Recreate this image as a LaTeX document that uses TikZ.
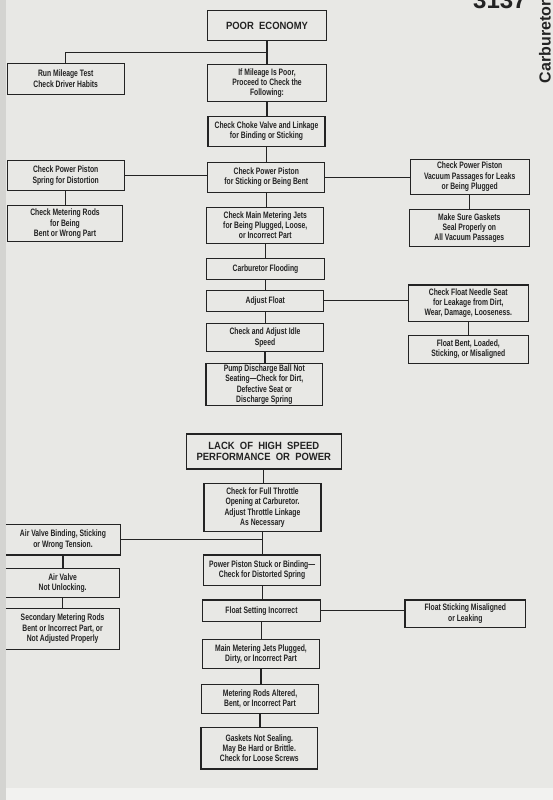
\documentclass[tikz,border=0pt]{standalone}
\usepackage{fontspec}
\newfontfamily\boxfont[FakeStretch=0.73]{Liberation Sans}
\newfontfamily\headfont[FakeStretch=0.9]{Liberation Sans}
\newfontfamily\sidefont{Liberation Sans}
\definecolor{bg}{RGB}{232,232,229}
\definecolor{strip}{RGB}{212,212,209}
\definecolor{bottomband}{RGB}{242,242,240}
\definecolor{ink}{RGB}{35,35,35}
\tikzset{
  ln/.style={draw=ink, line width=1.1pt},
  bx/.style={draw=ink, line width=1.1pt, align=center, inner sep=1pt, text=ink,
    font=\boxfont\bfseries\fontsize{9.3}{10.3}\selectfont},
  openbx/.style={draw=none, align=center, inner sep=1pt, text=ink,
    font=\boxfont\bfseries\fontsize{9.3}{10.3}\selectfont},
  headbx/.style={draw=ink, line width=1.2pt, align=center, inner sep=1pt, text=ink,
    font=\headfont\bfseries\fontsize{10.5}{11.5}\selectfont},
}
\begin{document}
\begin{tikzpicture}[x=1pt,y=-1pt]
\useasboundingbox (0,0) rectangle (553,800);
\fill[bg] (0,0) rectangle (553,800);
\fill[strip] (0,0) rectangle (6,800);
\fill[bottomband] (6,788) rectangle (553,800);
\begin{scope}
\clip (0,0) rectangle (553,800);
\node[anchor=base west, inner sep=0, rotate=90, text=ink,
  font=\sidefont\bfseries\fontsize{16}{16}\selectfont] (side) at (550.5,83.3) {Carburetor};
\node[anchor=base west, inner sep=0, text=ink,
  font=\sidefont\bfseries\fontsize{24}{24}\selectfont] (pgno) at (473,9) {3137};
\end{scope}

% ---------- POOR ECONOMY ----------
\node[headbx, minimum width=119pt, minimum height=30pt] (pe) at (267,25.7) {POOR\ \ ECONOMY};
\node[bx, minimum width=117pt, minimum height=31pt] (rm) at (65.7,78.7) {Run Mileage Test\\Check Driver Habits};
\node[bx, minimum width=119pt, minimum height=37pt] (im) at (267,83.3) {If Mileage Is Poor,\\Proceed to Check the\\Following:};
\node[bx, minimum width=117pt, minimum height=29.5pt] (cc) at (266.5,131.3) {Check Choke Valve and Linkage\\for Binding or Sticking};
\node[bx, minimum width=117pt, minimum height=30pt] (pp) at (266.3,177.3) {Check Power Piston\\for Sticking or Being Bent};
\node[bx, minimum width=117pt, minimum height=30pt] (ps) at (65.7,175.7) {Check Power Piston\\Spring for Distortion};
\node[bx, minimum width=115pt, minimum height=36pt] (mr) at (65,223.7) {Check Metering Rods\\for Being\\Bent or Wrong Part};
\node[bx, minimum width=119pt, minimum height=35pt] (vp) at (469.7,176.7) {Check Power Piston\\Vacuum Passages for Leaks\\or Being Plugged};
\node[bx, minimum width=120pt, minimum height=37pt] (gs) at (469.3,228) {Make Sure Gaskets\\Seal Properly on\\All Vacuum Passages};
\node[bx, minimum width=117pt, minimum height=36pt] (mj) at (265.3,225.3) {Check Main Metering Jets\\for Being Plugged, Loose,\\or Incorrect Part};
\node[bx, minimum width=117.6pt, minimum height=21pt] (cf) at (265.5,268.8) {Carburetor Flooding};
\node[bx, minimum width=117pt, minimum height=20.5pt] (af) at (265.3,300.8) {Adjust Float};
\node[bx, minimum width=117pt, minimum height=28.4pt] (ci) at (265,337.5) {Check and Adjust Idle\\Speed};
\node[bx, minimum width=116.7pt, minimum height=42.4pt] (pd) at (264.3,384.5) {Pump Discharge Ball Not\\Seating—Check for Dirt,\\Defective Seat or\\Discharge Spring};
\node[bx, minimum width=120pt, minimum height=36.7pt] (fn) at (468.3,303.3) {Check Float Needle Seat\\for Leakage from Dirt,\\Wear, Damage, Looseness.};
\node[bx, minimum width=120pt, minimum height=28.3pt] (fb) at (468.3,349.2) {Float Bent, Loaded,\\Sticking, or Misaligned};

\path (pe.south) ++(0,11.6) coordinate (j1);
\draw[ln] (pe.south) -- (pe.south |- im.north);
\draw[ln] (j1) -| (rm.north);
\foreach \a/\b in {im/cc, cc/pp, pp/mj, mj/cf, cf/af, af/ci, ci/pd, ps/mr, vp/gs, fn/fb}
  \draw[ln] (\a.south) -- (\a.south |- \b.north);
\draw[ln] (ps.east) -- (ps.east -| pp.west);
\draw[ln] (pp.east) -- (pp.east -| vp.west);
\draw[ln] (af.east) -- (af.east -| fn.west);

% ---------- LACK OF HIGH SPEED ----------
\node[headbx, minimum width=155pt, minimum height=35pt] (lh) at (263.8,451.5) {LACK\ \ OF\ \ HIGH\ \ SPEED\\PERFORMANCE\ \ OR\ \ POWER};
\node[bx, minimum width=117pt, minimum height=48.4pt] (ft) at (262.5,507.5) {Check for Full Throttle\\Opening at Carburetor.\\Adjust Throttle Linkage\\As Necessary};
\node[openbx, minimum width=114pt, minimum height=30.5pt] (av) at (63,539.5) {Air Valve Binding, Sticking\\or Wrong Tension.};
\node[openbx, minimum width=113.2pt, minimum height=29pt] (an) at (62.6,582.8) {Air Valve\\Not Unlocking.};
\node[openbx, minimum width=113.2pt, minimum height=41pt] (sm) at (62.6,628.8) {Secondary Metering Rods\\Bent or Incorrect Part, or\\Not Adjusted Properly};
\foreach \n in {av, an, sm}
  \draw[ln] (\n.north west) -- (\n.north east) -- (\n.south east) -- (\n.south west);
\node[bx, minimum width=116.4pt, minimum height=30.7pt] (pps) at (262.1,570.3) {Power Piston Stuck or Binding—\\Check for Distorted Spring};
\node[bx, minimum width=117.5pt, minimum height=21.7pt] (fs) at (261.5,610.8) {Float Setting Incorrect};
\node[bx, minimum width=120.6pt, minimum height=27.3pt] (fst) at (465.3,613.6) {Float Sticking Misaligned\\or Leaking};
\node[bx, minimum width=116.4pt, minimum height=29pt] (mjp) at (261,653.8) {Main Metering Jets Plugged,\\Dirty, or Incorrect Part};
\node[bx, minimum width=116.6pt, minimum height=29.3pt] (mra) at (260,698.7) {Metering Rods Altered,\\Bent, or Incorrect Part};
\node[bx, minimum width=116.7pt, minimum height=41.3pt] (gns) at (259.3,748.3) {Gaskets Not Sealing.\\May Be Hard or Brittle.\\Check for Loose Screws};

\foreach \a/\b in {lh/ft, ft/pps, pps/fs, fs/mjp, mjp/mra, mra/gns, av/an, an/sm}
  \draw[ln] (\a.south) -- (\a.south |- \b.north);
\draw[ln] (av.east) -- (av.east -| ft.south);
\draw[ln] (fs.east) -- (fs.east -| fst.west);
\end{tikzpicture}
\end{document}
